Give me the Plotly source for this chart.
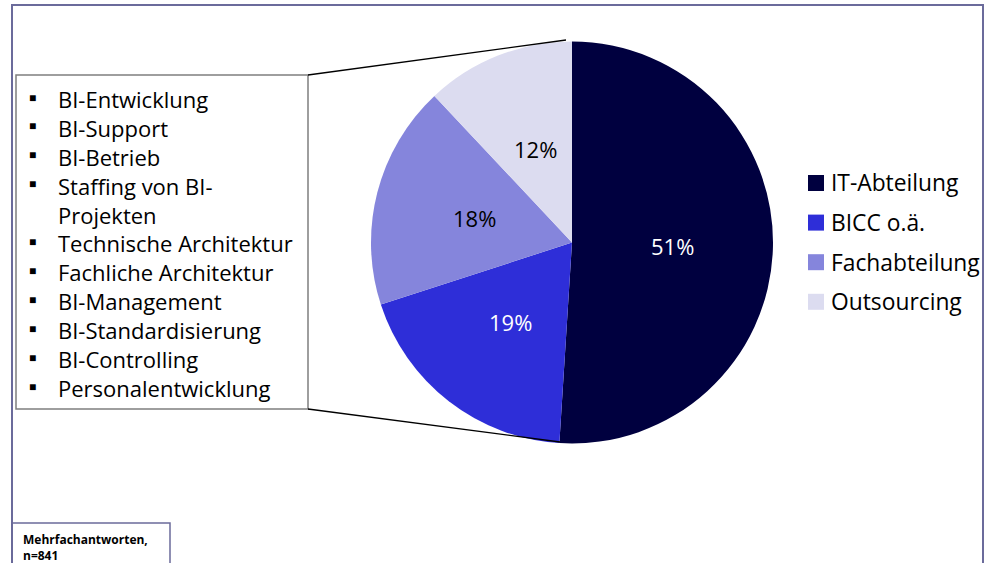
import math
import plotly.graph_objects as go

# --- Daten ---
labels = ['IT-Abteilung', 'BICC o.ä.', 'Fachabteilung', 'Outsourcing']
values = [51, 19, 18, 12]
colors = ['#00003f', '#2e2ed8', '#8585dc', '#dcdcf0']
text_colors = ['white', 'white', 'black', 'black']

aufgaben = ['BI-Entwicklung', 'BI-Support', 'BI-Betrieb', 'Staffing von BI-<br>Projekten',
            'Technische Architektur', 'Fachliche Architektur', 'BI-Management',
            'BI-Standardisierung', 'BI-Controlling', 'Personalentwicklung']
fussnote = '<b>Mehrfachantworten,<br>n=841</b>'

W, H = 985, 563
FONT = 'Open Sans, Noto Sans, sans-serif'


def px(x):
    return x / W


def py(y):
    return 1 - y / H


# Kreis: Mittelpunkt (572, 242), Radius 201
cx, cy, r = 572, 242.5, 201

fig = go.Figure()
fig.add_trace(go.Pie(
    labels=labels, values=values, sort=False, direction='clockwise', rotation=0,
    marker=dict(colors=colors, line=dict(width=0)),
    textinfo='none',
    domain=dict(x=[px(cx - r), px(cx + r)], y=[py(cy + r), py(cy - r)]),
    showlegend=False, hoverinfo='label+percent',
))

shapes = []
annotations = []

# Prozentwerte bei halbem Radius, mittig im Segment (wie Excel)
total = sum(values)
start = 0
for v, tc in zip(values, text_colors):
    mid = 2 * math.pi * (start + v / 2) / total
    start += v
    annotations.append(dict(x=px(cx + 0.5 * r * math.sin(mid)), y=py(cy - 0.5 * r * math.cos(mid)),
                            xref='paper', yref='paper', text=f'{v}%', showarrow=False,
                            xanchor='center', yanchor='middle',
                            font=dict(size=22, color=tc, family=FONT)))

# Rahmen
shapes.append(dict(type='rect', xref='paper', yref='paper', x0=px(12), x1=px(983), y0=py(5), y1=py(600),
                   line=dict(color='#6b6b9b', width=2), fillcolor='rgba(0,0,0,0)', layer='below'))

# Box mit Aufgaben
shapes.append(dict(type='rect', xref='paper', yref='paper', x0=px(16), x1=px(308), y0=py(75), y1=py(409),
                   line=dict(color='#7f7f7f', width=1.5)))
# Verbindungslinien
shapes.append(dict(type='line', xref='paper', yref='paper', x0=px(308), y0=py(75), x1=px(566), y1=py(40),
                   line=dict(color='black', width=1.3)))
shapes.append(dict(type='line', xref='paper', yref='paper', x0=px(308), y0=py(409), x1=px(560), y1=py(442),
                   line=dict(color='black', width=1.3)))

row = 0
for item in aufgaben:
    y = 97 + 28.9 * row
    annotations.append(dict(x=px(32), y=py(y), xref='paper', yref='paper', text='■', showarrow=False,
                            xanchor='center', yanchor='middle', font=dict(size=12, color='black', family=FONT)))
    annotations.append(dict(x=px(56), y=py(y - 15), xref='paper', yref='paper', text=item, showarrow=False,
                            xanchor='left', yanchor='top', align='left',
                            font=dict(size=22, color='black', family=FONT)))
    row += item.count('<br>') + 1

# Legende
for i, (lab, col) in enumerate(zip(labels, colors)):
    y = 183 + 39.6 * i
    shapes.append(dict(type='rect', xref='paper', yref='paper', x0=px(808), x1=px(824), y0=py(y - 8), y1=py(y + 8),
                       fillcolor=col, line=dict(width=0)))
    annotations.append(dict(x=px(829), y=py(y), xref='paper', yref='paper', text=lab, showarrow=False,
                            xanchor='left', yanchor='middle', font=dict(size=22.8, color='black', family=FONT)))

# Fussnote
shapes.append(dict(type='rect', xref='paper', yref='paper', x0=px(12), x1=px(170), y0=py(523), y1=py(600),
                   line=dict(color='#6b6b9b', width=1.5)))
annotations.append(dict(x=px(21), y=py(529), xref='paper', yref='paper', text=fussnote, showarrow=False,
                        xanchor='left', yanchor='top', align='left',
                        font=dict(size=12, color='black', family=FONT)))

fig.update_layout(
    width=W, height=H, margin=dict(l=0, r=0, t=0, b=0),
    paper_bgcolor='white', plot_bgcolor='white',
    shapes=shapes, annotations=annotations,
)

fig.write_html('out.html', config={'displayModeBar': False},
               post_script="document.body.style.margin='0';document.body.style.overflow='hidden';")
